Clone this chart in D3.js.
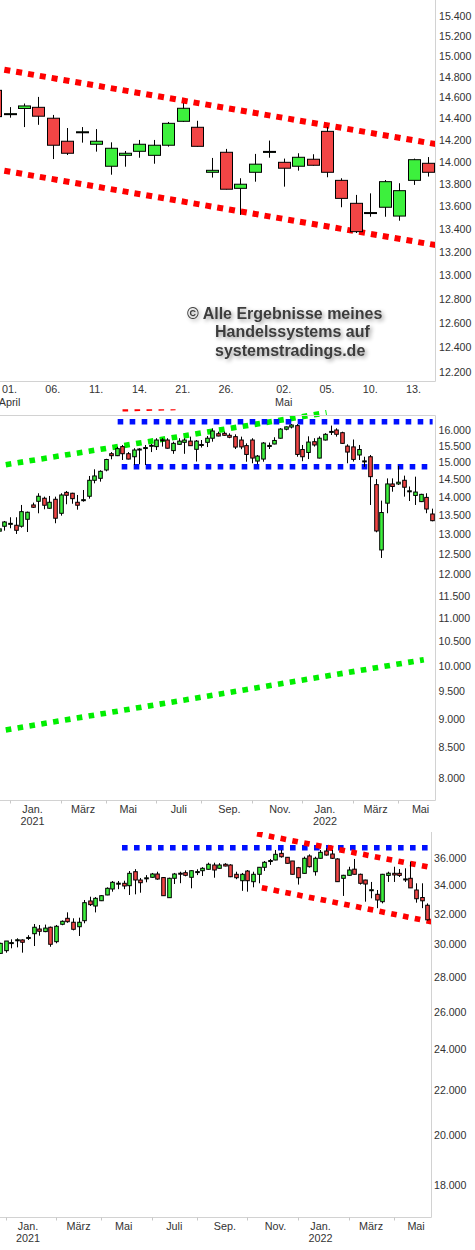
<!DOCTYPE html>
<html><head><meta charset="utf-8">
<script src="https://cdn.jsdelivr.net/npm/d3@7"></script>
<style>
html,body{margin:0;padding:0;background:#fff;}
svg{display:block;font-family:"Liberation Sans",Arial,Helvetica,sans-serif;}
</style></head><body>
<svg id="c" width="475" height="1250"></svg>
<script>
// ---------------- DATA ----------------
// Panel 1: DAX daily (trading days)
const dailyDates = ["2022-03-31","2022-04-01","2022-04-04","2022-04-05","2022-04-06","2022-04-07","2022-04-08",
 "2022-04-11","2022-04-12","2022-04-13","2022-04-14","2022-04-19","2022-04-20","2022-04-21","2022-04-22",
 "2022-04-25","2022-04-26","2022-04-27","2022-04-28","2022-04-29","2022-05-02","2022-05-03","2022-05-04",
 "2022-05-05","2022-05-06","2022-05-09","2022-05-10","2022-05-11","2022-05-12","2022-05-13","2022-05-16"];
// [open, high, low, close]
const dailyOHLC = [
 [14670,14700,14400,14420],[14446,14510,14410,14448],[14497,14544,14322,14521],[14508,14607,14343,14424],
 [14405,14436,14026,14153],[14190,14313,14063,14079],[14274,14322,14177,14278],[14162,14303,14094,14190],
 [13960,14180,13883,14125],[14060,14100,13956,14079],[14097,14202,14038,14162],[14060,14202,13983,14153],
 [14153,14370,14140,14357],[14376,14547,14370,14499],[14320,14381,14140,14143],[13905,14036,13857,13923],
 [14088,14119,13750,13752],[13760,13851,13523,13797],[13905,14073,13820,13979],[14092,14196,14038,14096],
 [13996,14030,13775,13942],[13960,14079,13920,14042],[14024,14070,13965,13969],[14282,14322,13860,13905],
 [13832,13851,13591,13670],[13626,13701,13364,13376],[13540,13715,13507,13544],[13591,13835,13507,13820],
 [13513,13806,13472,13739],[13832,14030,13791,14020],[13987,14044,13866,13905]];
const dailyTickDates  = ["2022-04-01","2022-04-06","2022-04-11","2022-04-14","2022-04-21","2022-04-26","2022-05-02","2022-05-05","2022-05-10","2022-05-13"];
const dailyTickLabels = ["01.","06.","11.","14.","21.","26.","02.","05.","10.","13."];
const dailyMonthDates  = ["2022-04-01","2022-05-02"];
const dailyMonthLabels = ["April","Mai"];
const dailyYTicks = [12200,12400,12600,12800,13000,13200,13400,13600,13800,14000,14200,14400,14600,14800,15000,15200,15400];
// channel anchors: [trading-day index, value]
const dailyChannelUpper = [[-1,14908],[31,14153]];
const dailyChannelLower = [[-1,13956],[31,13249]];

// Weekly candles (weeks ending Friday), first week and last week
const weeklyFirstFriday = "2020-11-20", weeklyLastFriday = "2022-05-13";
// Panel 2: DAX weekly [open, high, low, close]
const daxWeeklyOHLC = [
 [13080,13250,13000,13140],[13209,13348,13093,13322],[13270,13447,13156,13285],[13235,13447,13008,13103],
 [13209,13781,13173,13598],[13393,13600,13058,13582],[13781,13845,13700,13718],[13882,14106,13554,14022],
 [13966,14011,13663,13773],[13691,14030,13680,13855],[13938,14011,13288,13421],[13554,14106,13490,14058],
 [14131,14170,13800,14049],[14106,14120,13815,13955],[13855,14058,13652,13773],[13915,14198,13872,13927],
 [14022,14600,13955,14475],[14475,14795,14388,14600],[14532,14766,14436,14736],[14775,15108,14736,15087],
 [15262,15312,15093,15202],[15202,15470,15190,15417],[15479,15530,15072,15262],[15262,15312,15090,15100],
 [15170,15430,14923,15375],[15395,15430,14945,15405],[15440,15530,14923,15450],[15510,15560,15312,15520],
 [15479,15740,15375,15684],[15680,15740,15479,15690],[15684,15740,15420,15430],[15357,15632,15259,15580],
 [15550,15740,15540,15650],[15612,15740,15259,15684],[15650,15790,15500,15508],[15396,15684,15026,15650],
 [15535,15684,15450,15545],[15612,15810,15465,15740],[15740,16054,15632,15968],[15882,15946,15800,15810],
 [15895,15946,15820,15832],[15832,15895,15740,15770],[15790,15863,15405,15465],[15684,15790,15400,15470],
 [15510,15580,15020,15240],[15684,15740,14975,15130],[15040,15223,14945,15190],[15100,15620,15020,15590],
 [15505,15605,15405,15515],[15560,15770,15550,15670],[15740,16060,15730,16030],[16025,16110,15990,16100],
 [16095,16190,16050,16160],[16140,16190,15170,15240],[15390,15530,15035,15170],[15300,15800,15100,15620],
 [15632,15740,15480,15530],[15130,15800,15120,15740],[15684,15900,15670,15863],[15940,16140,15841,15955],
 [16000,16054,15790,15864],[15914,15946,15570,15580],[15495,15550,14975,15312],[15470,15700,15026,15090],
 [15223,15530,15072,15390],[15035,15170,14870,15045],[15170,15223,13781,14580],[14350,14510,13050,13085],
 [12600,13900,12400,13575],[13830,14530,13556,14370],[14370,14530,14150,14297],[14370,14900,14341,14420],
 [14475,14610,14011,14276],[14165,14297,13890,14175],[14045,14580,13781,14140],[13873,14090,13860,14075],
 [13990,14106,13556,13670],[13535,13680,13340,13356]];
const daxWeeklyYTicks = [8000,8500,9000,9500,10000,10500,11000,11500,12000,12500,13000,13500,14000,14500,15000,15500,16000];
// lines: [date, value]
const daxGreenUpper = [["2020-11-14",14875],["2022-01-02",16561]];
const daxGreenLower = [["2020-11-14",8768],["2022-05-03",10125]];
const daxBlueUpper  = [["2021-04-17",16267],["2022-05-14",16267]];
const daxBlueLower  = [["2021-04-22",14872],["2022-05-15",14872]];
const daxRedTop     = [["2021-04-23",16693],["2021-06-28",16733]];

// Panel 3: Dow Jones weekly [open, high, low, close]
const dowWeeklyOHLC = [
 [29480,29600,29200,29263],[29430,30100,29400,30060],[29600,30211,29474,30210],[30090,30319,29747,30110],
 [30270,30385,29808,30290],[30278,30320,29474,30130],[30420,30587,30278,30440],[30683,31320,29891,31104],
 [30989,31255,30553,30841],[30820,31280,30780,31050],[31104,31150,29847,30002],[30168,31255,30064,31169],
 [31302,31560,31240,31500],[31700,32104,31400,31473],[31436,31700,30900,30970],[31140,31742,30535,31436],
 [31540,32955,31367,32768],[32886,33185,32537,32632],[32537,33160,32100,33072],[32904,33300,32880,33257],
 [33307,33850,33290,33782],[33732,34307,33541,34215],[34130,34307,33720,34150],[34143,34330,33720,33948],
 [33970,35042,33307,34873],[34992,35180,33354,34382],[34380,34529,33468,34185],[34520,34740,34215,34540],
 [34579,34900,34550,34822],[34822,34990,34400,34452],[34560,34600,33250,33257],[33117,34550,33100,34506],
 [34506,34900,34091,34822],[34880,34990,34150,34860],[34918,35090,34650,34725],[34579,35100,33782,35066],
 [34980,35170,34740,35000],[35066,35330,34676,35245],[35170,35665,35150,35546],[35492,35665,34548,35118],
 [35245,35630,35220,35492],[35546,35630,35390,35416],[35492,35550,34590,34621],[34800,34990,34440,34548],
 [34330,34900,33600,34800],[35040,35118,33541,34330],[34258,34990,33855,34800],[34800,35320,34142,35320],
 [35320,35790,35050,35697],[35810,35950,35500,35830],[35870,36640,35850,36306],[36380,36640,36050,36120],
 [36076,36100,35600,35620],[35795,35800,34790,34800],[35290,35350,34050,34548],[34870,36130,34850,36000],
 [36180,36300,35300,35365],[34992,36120,34700,36000],[36000,36640,35980,36460],[36560,36771,36200,36250],
 [36330,36640,35950,36000],[35950,36000,34250,34260],[34506,34760,33240,34725],[34725,35360,34700,35118],
 [35180,35950,34780,34800],[34800,34850,34050,34142],[34380,34400,32836,34090],[33640,34240,33072,33680],
 [33354,33661,32390,32955],[32836,34830,32720,34800],[34720,34990,34240,34880],[34873,35360,34240,34750],
 [34873,35190,34600,34720],[34440,35245,34240,34460],[34506,35740,33800,33811],[33661,34142,32768,33043],
 [33128,34142,32390,32899],[32590,32720,31550,31600]];
const dowWeeklyYTicks = [18000,20000,22000,24000,26000,28000,30000,32000,34000,36000];
const dowBlue     = [["2021-04-28",36818],["2022-05-14",36818]];
const dowRedUpper = [["2021-10-13",37919],["2022-05-18",35297]];
const dowRedLower = [["2021-10-19",33826],["2022-05-18",31468]];

// shared weekly x-axis labels (month starts)
const monthTickDates = ["2021-01-01","2021-03-01","2021-05-01","2021-07-01","2021-09-01","2021-11-01","2022-01-01","2022-03-01","2022-05-01"];
const monthTickLabels = ["Jan.","März","Mai","Juli","Sep.","Nov.","Jan.","März","Mai"];
const yearLabels = ["2021","","","","","","2022","",""];
const minorMonthDates = ["2020-12-01","2021-02-01","2021-04-01","2021-06-01","2021-08-01","2021-10-01","2021-12-01","2022-02-01","2022-04-01"];

// ---------------- DRAWING ----------------
const parse = d3.timeParse("%Y-%m-%d");
const svg = d3.select("#c");
svg.append("rect").attr("width",475).attr("height",1250).attr("fill","#fff");
const defs = svg.append("defs");
function clip(id,x,y,w,h){defs.append("clipPath").attr("id",id).append("rect").attr("x",x).attr("y",y).attr("width",w).attr("height",h);}
clip("cTop",0,0,435.5,381);
clip("cMid",0,409.3,435.5,391);
clip("cBot",0,832,431.5,385.5);

const f = defs.append("filter").attr("id","sh").attr("x","-10%").attr("y","-40%").attr("width","130%").attr("height","200%");
f.append("feGaussianBlur").attr("in","SourceAlpha").attr("stdDeviation",2);
f.append("feOffset").attr("dx",2).attr("dy",2).attr("result","o");
f.append("feComponentTransfer").append("feFuncA").attr("type","linear").attr("slope",0.4);
const fm = f.append("feMerge"); fm.append("feMergeNode"); fm.append("feMergeNode").attr("in","SourceGraphic");

const GREEN="#3df03d", RED="#f24545", AX="#d2d2d2", TXT="#333";
const fmtK = v => (v/1000).toFixed(3);

function candles(g, rows, xf, y, w){
  const sel = g.selectAll(null).data(rows).enter().append("g");
  sel.append("line")
    .attr("x1", d=>Math.round(xf(d))+0.5).attr("x2", d=>Math.round(xf(d))+0.5)
    .attr("y1", d=>y(d.h)).attr("y2", d=>y(d.l))
    .attr("stroke","#000").attr("stroke-width",1);
  sel.append("rect")
    .attr("x", d=>Math.round(xf(d))+0.5-w/2)
    .attr("width", w)
    .attr("y", d=>Math.min(y(d.o),y(d.c)))
    .attr("height", d=>Math.max(1, Math.abs(y(d.o)-y(d.c))))
    .attr("fill", d=> d.c>=d.o ? GREEN : RED)
    .attr("stroke","#000").attr("stroke-width",1);
}
function dotted(g, pts, xf, y, color, sw, dash){
  g.append("path").attr("d", d3.line().x(p=>xf(p[0])).y(p=>y(p[1]))(pts))
   .attr("fill","none").attr("stroke",color).attr("stroke-width",sw).attr("stroke-dasharray",dash);
}
const toRows = (arr, keys) => arr.map((r,i)=>({k:keys[i],o:r[0],h:r[1],l:r[2],c:r[3]}));

// ===== Panel 1 =====
const xTop = d3.scaleLinear().domain([0, dailyDates.length-1]).range([-4.9, 428]);
const yTop = d3.scaleLog().domain([15400,12200]).range([16,372.5]);
const gTop = svg.append("g");
const pTop = gTop.append("g").attr("clip-path","url(#cTop)");
dotted(pTop, dailyChannelUpper, xTop, yTop, "#ff0000", 6, "6 6");
dotted(pTop, dailyChannelLower, xTop, yTop, "#ff0000", 6, "6 6");
candles(pTop, toRows(dailyOHLC, dailyDates.map((d,i)=>i)), d=>xTop(d.k), yTop, 12);
gTop.append("line").attr("x1",435.5).attr("x2",435.5).attr("y1",0).attr("y2",381.5).attr("stroke",AX);
gTop.append("line").attr("x1",0).attr("x2",435.5).attr("y1",381.5).attr("y2",381.5).attr("stroke",AX);
gTop.selectAll(null).data(dailyYTicks).enter().append("text")
  .attr("x",439).attr("y",d=>yTop(d)).attr("dy","0.35em").attr("font-size",10.6).attr("fill",TXT).text(fmtK);
gTop.selectAll(null).data(dailyTickDates).enter().append("text")
  .attr("x",d=>xTop(dailyDates.indexOf(d))).attr("y",393).attr("text-anchor","middle")
  .attr("font-size",10.8).attr("fill",TXT).text((d,i)=>dailyTickLabels[i]);
gTop.selectAll(null).data(dailyMonthDates).enter().append("text")
  .attr("x",d=>xTop(dailyDates.indexOf(d))).attr("y",406).attr("text-anchor","middle")
  .attr("font-size",10.8).attr("fill",TXT).text((d,i)=>dailyMonthLabels[i]);
// watermark
const wm = gTop.append("g").attr("filter","url(#sh)").attr("font-weight","bold").attr("font-size",16).attr("fill","#3c3c3c");
wm.append("text").attr("x",187).attr("y",319).text("© Alle Ergebnisse meines");
wm.append("text").attr("x",215).attr("y",337.3).text("Handelssystems auf");
wm.append("text").attr("x",215).attr("y",355.7).text("systemstradings.de");

// weekly dates
const weeks = d3.timeFriday.range(parse(weeklyFirstFriday), d3.timeDay.offset(parse(weeklyLastFriday),1));
const weekBar = d => d3.timeDay.offset(d3.timeMonday.floor(d), 4);  // Friday of the week containing d

function weeklyPanel(cfg){
  const g = svg.append("g");
  const x = d3.scaleTime().domain([parse("2021-01-01"), parse("2022-01-01")]).range([cfg.x0, cfg.x0 + 365*0.8035]);
  const y = d3.scaleLog().domain(cfg.yDomain).range(cfg.yRange);
  const p = g.append("g").attr("clip-path", `url(#${cfg.clip})`);
  cfg.lines.forEach(L => dotted(p, L.pts.map(q=>[parse(q[0]),q[1]]), x, y, L.color, 5.6, "5.6 6.4"));
  candles(p, toRows(cfg.ohlc, weeks), d=>x(d.k), y, 3.6);
  if (cfg.topBorder) g.append("line").attr("x1",0).attr("x2",cfg.axX).attr("y1",cfg.top).attr("y2",cfg.top).attr("stroke",AX);
  g.append("line").attr("x1",cfg.axX).attr("x2",cfg.axX).attr("y1",cfg.top).attr("y2",cfg.bottom).attr("stroke",AX);
  g.append("line").attr("x1",0).attr("x2",cfg.axX).attr("y1",cfg.bottom).attr("y2",cfg.bottom).attr("stroke",AX);
  g.selectAll(null).data(cfg.yTicks).enter().append("text")
    .attr("x",cfg.labX).attr("y",d=>y(d)).attr("dy","0.35em").attr("font-size",10.6).attr("fill",TXT).text(fmtK);
  g.selectAll(null).data(minorMonthDates).enter().append("line")
    .attr("x1",d=>Math.round(x(weekBar(parse(d))))+0.5).attr("x2",d=>Math.round(x(weekBar(parse(d))))+0.5)
    .attr("y1",cfg.bottom).attr("y2",cfg.bottom+3).attr("stroke","#c8c8c8");
  g.selectAll(null).data(monthTickDates).enter().append("text")
    .attr("x",d=>x(weekBar(parse(d)))).attr("y",cfg.bottom+12.3).attr("text-anchor","middle")
    .attr("font-size",10.8).attr("fill",TXT).text((d,i)=>monthTickLabels[i]);
  g.selectAll(null).data(monthTickDates).enter().append("text")
    .attr("x",d=>x(weekBar(parse(d)))).attr("y",cfg.bottom+24.6).attr("text-anchor","middle")
    .attr("font-size",10.8).attr("fill",TXT).text((d,i)=>yearLabels[i]);
}

weeklyPanel({x0:32.5, yDomain:[16000,8000], yRange:[430,778], clip:"cMid", ohlc:daxWeeklyOHLC,
  top:415.5, bottom:800.5, axX:435.5, labX:438.5, topBorder:true, yTicks:daxWeeklyYTicks,
  lines:[{pts:daxGreenUpper,color:"#00ee00"},{pts:daxGreenLower,color:"#00ee00"},
         {pts:daxBlueUpper,color:"#0010ff"},{pts:daxBlueLower,color:"#0010ff"},
         {pts:daxRedTop,color:"#ff0000"}]});

weeklyPanel({x0:28, yDomain:[36000,18000], yRange:[858.3,1185.3], clip:"cBot", ohlc:dowWeeklyOHLC,
  top:832, bottom:1217.5, axX:431.5, labX:434, topBorder:false, yTicks:dowWeeklyYTicks,
  lines:[{pts:dowBlue,color:"#0010ff"},{pts:dowRedUpper,color:"#ff0000"},{pts:dowRedLower,color:"#ff0000"}]});
</script>
</body></html>
